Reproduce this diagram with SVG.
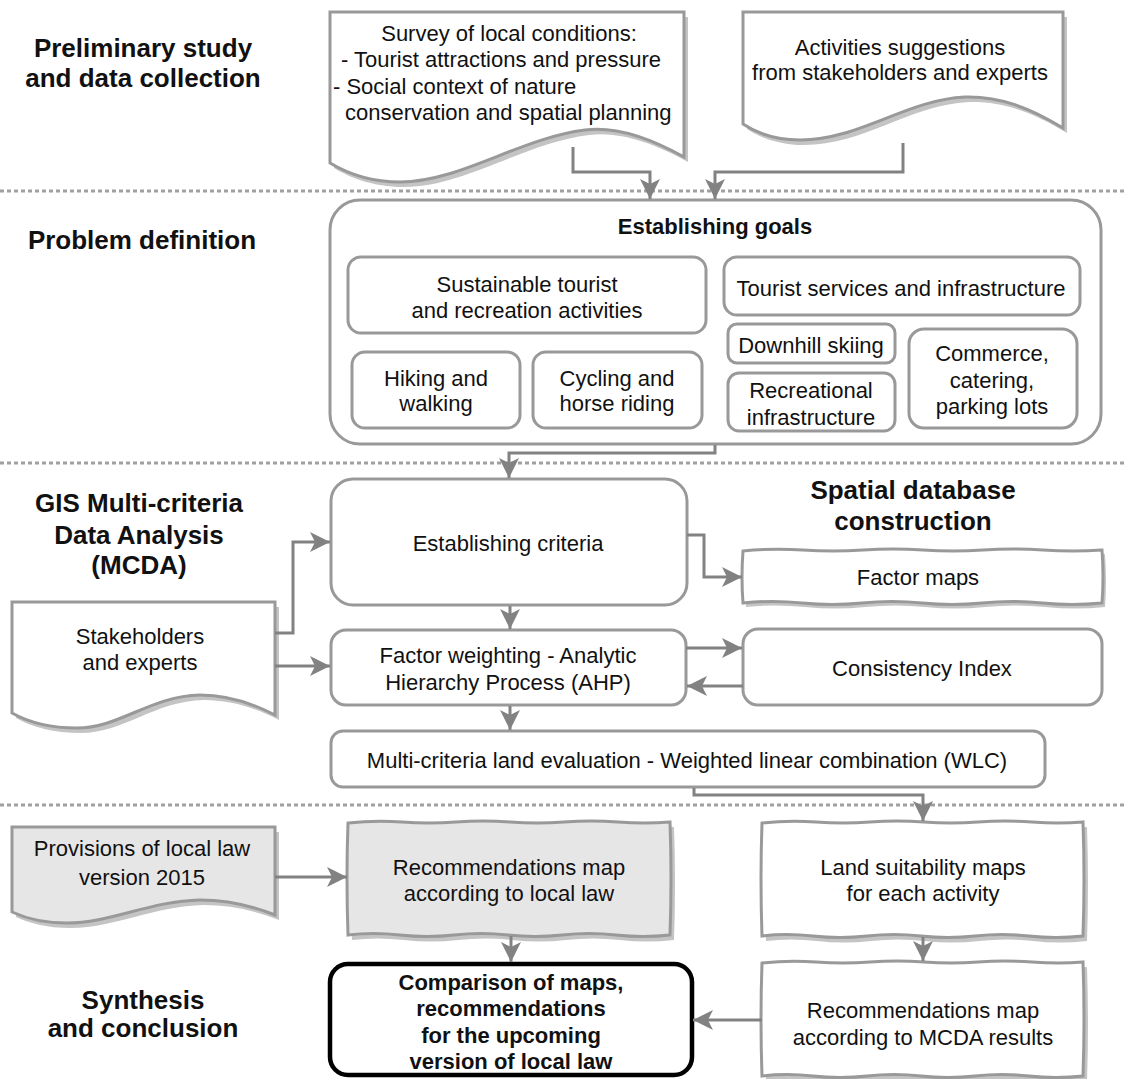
<svg xmlns="http://www.w3.org/2000/svg" width="1126" height="1079" viewBox="0 0 1126 1079">
<style>
.t{font-family:"Liberation Sans",Arial,sans-serif;font-size:22px;fill:#111;text-anchor:middle}
.s{text-anchor:start}
.b{font-weight:bold}
.h{font-family:"Liberation Sans",Arial,sans-serif;font-size:26px;font-weight:bold;fill:#111;text-anchor:middle}
.box{fill:#fff;stroke:#999;stroke-width:3}
.gray{fill:#e6e6e6}
.sh{fill:#c4c4c4;stroke:none}
.con{fill:none;stroke:#828282;stroke-width:3;marker-end:url(#ah)}
.sep{stroke:#a0a0a0;stroke-width:3;stroke-dasharray:4 3}
</style>
<defs>
<marker id="ah" markerUnits="userSpaceOnUse" markerWidth="22" markerHeight="20" refX="20" refY="10" orient="auto">
<path d="M0,0 L20,10 L0,20 L5,10 Z" fill="#828282"/>
</marker>
<path id="doc1" d="M330,12 H684 V157 C650,138 615,126 585,130 C520,138 460,182 400,182 C368,182 345,172 330,163 Z"/>
<path id="doc2" d="M743,12 H1063 V128 C1030,108 1000,96 965,97 C905,100 860,140 800,140 C775,140 755,132 743,124 Z"/>
<path id="doc3" d="M12,602 H275 V715 C250,702 225,695 200,695 C150,696 120,728 77,728 C50,728 28,722 12,713 Z"/>
<path id="doc4" d="M12,827 H275 V915 C250,905 225,900 200,900 C150,901 110,923 67,923 C42,923 25,918 12,912 Z"/>
<path id="wFM" d="M743,551 Q773,548 803,550 T863,550 T923,550 T983,550 T1043,550 T1102,550 Q1104,577 1102,603 Q1072,606 1042,603 T982,603 T922,603 T862,603 T802,603 T743,603 Q741,577 743,551 Z"/>
<path id="wRL" d="M348,823 Q375,820 402,822 T456,822 T510,822 T564,822 T618,822 T670,822 Q672,878 670,935 Q643,938 616,935 T562,935 T508,935 T454,935 T400,935 T348,935 Q346,878 348,823 Z"/>
<path id="wLS" d="M762,823 Q789,820 816,822 T870,822 T924,822 T978,822 T1032,822 T1083,822 Q1085,879 1083,936 Q1056,939 1029,936 T975,936 T921,936 T867,936 T813,936 T762,936 Q760,879 762,823 Z"/>
<path id="wRM" d="M762,963 Q789,960 816,962 T870,962 T924,962 T978,962 T1032,962 T1083,962 Q1085,1019 1083,1076 Q1056,1079 1029,1076 T975,1076 T921,1076 T867,1076 T813,1076 T762,1076 Q760,1019 762,963 Z"/>
</defs>

<g id="separators">
<line class="sep" x1="0" y1="191" x2="1126" y2="191"/>
<line class="sep" x1="0" y1="463" x2="1126" y2="463"/>
<line class="sep" x1="0" y1="805" x2="1126" y2="805"/>
</g>

<g id="labels">
<text class="h" x="143" y="57">Preliminary study</text>
<text class="h" x="143" y="87">and data collection</text>
<text class="h" x="142" y="249">Problem definition</text>
<text class="h" x="139" y="512">GIS Multi-criteria</text>
<text class="h" x="139" y="544">Data Analysis</text>
<text class="h" x="139" y="574">(MCDA)</text>
<text class="h" x="913" y="499">Spatial database</text>
<text class="h" x="913" y="530">construction</text>
<text class="h" x="143" y="1009">Synthesis</text>
<text class="h" x="143" y="1037">and conclusion</text>
</g>

<g id="survey">
<use href="#doc1" class="sh" transform="translate(4,5)"/>
<use href="#doc1" class="box"/>
<text class="t" x="509" y="41">Survey of local conditions:</text>
<text class="t s" x="341" y="67">- Tourist attractions and pressure</text>
<text class="t s" x="333" y="94">- Social context of nature</text>
<text class="t s" x="345" y="120">conservation and spatial planning</text>
</g>

<g id="suggestions">
<use href="#doc2" class="sh" transform="translate(4,5)"/>
<use href="#doc2" class="box"/>
<text class="t" x="900" y="55">Activities suggestions</text>
<text class="t" x="900" y="80">from stakeholders and experts</text>
</g>

<g id="goals">
<rect class="box" x="330" y="200" width="771" height="244" rx="30"/>
<text class="t b" x="715" y="234">Establishing goals</text>
</g>
<g id="sustainable">
<rect class="box" x="348" y="257" width="358" height="76" rx="13"/>
<text class="t" x="527" y="292">Sustainable tourist</text>
<text class="t" x="527" y="318">and recreation activities</text>
</g>
<g id="services">
<rect class="box" x="724" y="257" width="356" height="58" rx="13"/>
<text class="t" x="901" y="296">Tourist services and infrastructure</text>
</g>
<g id="hiking">
<rect class="box" x="352" y="352" width="168" height="76" rx="13"/>
<text class="t" x="436" y="386">Hiking and</text>
<text class="t" x="436" y="411">walking</text>
</g>
<g id="cycling">
<rect class="box" x="533" y="352" width="169" height="76" rx="13"/>
<text class="t" x="617" y="386">Cycling and</text>
<text class="t" x="617" y="411">horse riding</text>
</g>
<g id="skiing">
<rect class="box" x="728" y="324" width="167" height="39" rx="9"/>
<text class="t" x="811" y="353">Downhill skiing</text>
</g>
<g id="recreational">
<rect class="box" x="728" y="373" width="167" height="58" rx="11"/>
<text class="t" x="811" y="398">Recreational</text>
<text class="t" x="811" y="425">infrastructure</text>
</g>
<g id="commerce">
<rect class="box" x="909" y="329" width="168" height="99" rx="15"/>
<text class="t" x="992" y="361">Commerce,</text>
<text class="t" x="992" y="388">catering,</text>
<text class="t" x="992" y="414">parking lots</text>
</g>

<g id="criteria">
<rect class="box" x="331" y="479" width="356" height="126" rx="22"/>
<text class="t" x="508" y="551">Establishing criteria</text>
</g>
<g id="factormaps">
<use href="#wFM" class="sh" transform="translate(3,4)"/>
<use href="#wFM" class="box"/>
<text class="t" x="918" y="585">Factor maps</text>
</g>
<g id="stakeholders">
<use href="#doc3" class="sh" transform="translate(4,5)"/>
<use href="#doc3" class="box"/>
<text class="t" x="140" y="644">Stakeholders</text>
<text class="t" x="140" y="670">and experts</text>
</g>
<g id="weighting">
<rect class="box" x="331" y="630" width="355" height="75" rx="15"/>
<text class="t" x="508" y="663">Factor weighting - Analytic</text>
<text class="t" x="508" y="690">Hierarchy Process (AHP)</text>
</g>
<g id="consistency">
<rect class="box" x="743" y="629" width="359" height="76" rx="15"/>
<text class="t" x="922" y="676">Consistency Index</text>
</g>
<g id="wlc">
<rect class="box" x="331" y="731" width="714" height="56" rx="12"/>
<text class="t" x="687" y="768">Multi-criteria land evaluation - Weighted linear combination (WLC)</text>
</g>

<g id="provisions">
<use href="#doc4" class="sh" transform="translate(4,5)"/>
<use href="#doc4" class="box gray"/>
<text class="t" x="142" y="856">Provisions of local law</text>
<text class="t" x="142" y="885">version 2015</text>
</g>
<g id="reclocal">
<use href="#wRL" class="sh" transform="translate(4,5)"/>
<use href="#wRL" class="box gray"/>
<text class="t" x="509" y="875">Recommendations map</text>
<text class="t" x="509" y="901">according to local law</text>
</g>
<g id="landsuit">
<use href="#wLS" class="sh" transform="translate(4,5)"/>
<use href="#wLS" class="box"/>
<text class="t" x="923" y="875">Land suitability maps</text>
<text class="t" x="923" y="901">for each activity</text>
</g>
<g id="recmcda">
<use href="#wRM" class="sh" transform="translate(4,5)"/>
<use href="#wRM" class="box"/>
<text class="t" x="923" y="1018">Recommendations map</text>
<text class="t" x="923" y="1045">according to MCDA results</text>
</g>
<g id="comparison">
<rect x="330" y="964" width="362" height="111" rx="18" fill="#fff" stroke="#000" stroke-width="4.5"/>
<text class="t b" x="511" y="990">Comparison of maps,</text>
<text class="t b" x="511" y="1016">recommendations</text>
<text class="t b" x="511" y="1043">for the upcoming</text>
<text class="t b" x="511" y="1069">version of local law</text>
</g>

<g id="connectors">
<path class="con" d="M573,147 V172 H650 V199"/>
<path class="con" d="M903,143 V172 H715 V199"/>
<path class="con" d="M715,445 V453 H509 V478"/>
<path class="con" d="M275,633 H293 V542 H330"/>
<path class="con" d="M275,666 H330"/>
<path class="con" d="M687,535 H704 V577 H742"/>
<path class="con" d="M510,606 V629"/>
<path class="con" d="M686,648 H742"/>
<path class="con" d="M743,686 H687"/>
<path class="con" d="M510,706 V730"/>
<path class="con" d="M694,788 V795 H923 V821"/>
<path class="con" d="M275,877 H347"/>
<path class="con" d="M511,936 V962"/>
<path class="con" d="M923,937 V961"/>
<path class="con" d="M762,1020 H693"/>
</g>
</svg>
